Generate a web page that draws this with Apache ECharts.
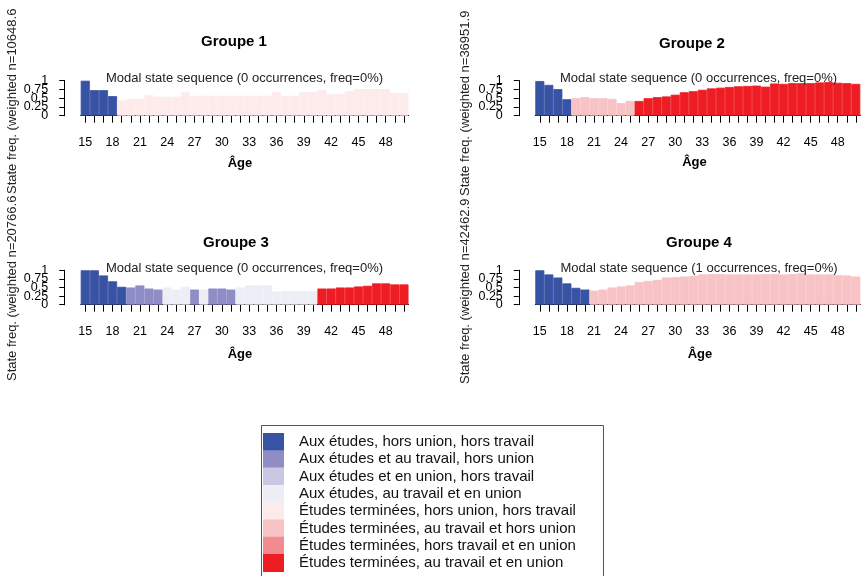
<!DOCTYPE html>
<html>
<head>
<meta charset="utf-8">
<script src="https://cdn.jsdelivr.net/npm/echarts@6/dist/echarts.min.js"></script>
<style>
html,body{margin:0;padding:0;background:#fff;}
#chart{width:861px;height:576px;}
</style>
</head>
<body>
<div id="chart"></div>
<script>
const ages = ['15','16','17','18','19','20','21','22','23','24','25','26','27','28','29','30','31','32','33','34','35','36','37','38','39','40','41','42','43','44','45','46','47','48','49','50'];

const stateNames = [
  'Aux études, hors union, hors travail',
  'Aux études et au travail, hors union',
  'Aux études et en union, hors travail',
  'Aux études, au travail et en union',
  'Études terminées, hors union, hors travail',
  'Études terminées, au travail et hors union',
  'Études terminées, hors travail et en union',
  'Études terminées, au travail et en union'
];
const stateColors = ['#3953A4','#8E8DC6','#C9C7E2','#EDEDF6','#FDEBEC','#F8C3C5','#F28B8F','#EE1D23'];

const groupTitles = ['Groupe 1','Groupe 2','Groupe 3','Groupe 4'];
const groupSubtitles = [
  'Modal state sequence (0 occurrences, freq=0%)',
  'Modal state sequence (0 occurrences, freq=0%)',
  'Modal state sequence (0 occurrences, freq=0%)',
  'Modal state sequence (1 occurrences, freq=0%)'
];
const groupYTitles = [
  'State freq. (weighted n=10648.6',
  'State freq. (weighted n=36951.9',
  'State freq. (weighted n=20766.6',
  'State freq. (weighted n=42462.9'
];
// y tick labels, split in two sets so the library keeps all of them
const yTicksMain = [0, 0.5, 1];
const yTicksQuarter = [0.25, 0.75];

// modal state (index into stateNames) at each age
const group1State = [0,0,0,0,4,4,4,4,4,4,4,4,4,4,4,4,4,4,4,4,4,4,4,4,4,4,4,4,4,4,4,4,4,4,4,4];
const group2State = [0,0,0,0,5,5,5,5,5,5,5,7,7,7,7,7,7,7,7,7,7,7,7,7,7,7,7,7,7,7,7,7,7,7,7,7];
const group3State = [0,0,0,0,0,1,1,1,1,3,3,3,1,3,1,1,1,3,3,3,3,3,3,3,3,3,7,7,7,7,7,7,7,7,7,7];
const group4State = [0,0,0,0,0,0,5,5,5,5,5,5,5,5,5,5,5,5,5,5,5,5,5,5,5,5,5,5,5,5,5,5,5,5,5,5];

// frequency of the modal state at each age
const group1Freq = [1.00,0.73,0.73,0.56,0.44,0.48,0.48,0.59,0.54,0.54,0.54,0.68,0.57,0.57,0.57,0.57,0.57,0.57,0.57,0.57,0.57,0.68,0.57,0.57,0.67,0.67,0.73,0.62,0.62,0.70,0.76,0.76,0.76,0.76,0.65,0.65];
const group2Freq = [0.99,0.88,0.76,0.47,0.50,0.53,0.50,0.50,0.48,0.36,0.42,0.42,0.50,0.53,0.55,0.60,0.67,0.70,0.74,0.78,0.80,0.82,0.84,0.85,0.86,0.83,0.92,0.91,0.93,0.93,0.93,0.95,0.96,0.94,0.93,0.91];
const group3Freq = [1.00,1.00,0.85,0.68,0.52,0.50,0.56,0.47,0.44,0.50,0.44,0.52,0.44,0.44,0.47,0.47,0.44,0.50,0.56,0.56,0.56,0.38,0.40,0.40,0.40,0.40,0.47,0.47,0.50,0.50,0.53,0.55,0.62,0.62,0.59,0.59];
const group4Freq = [1.00,0.88,0.79,0.62,0.49,0.44,0.41,0.44,0.50,0.53,0.56,0.66,0.69,0.72,0.79,0.80,0.82,0.84,0.88,0.89,0.89,0.88,0.88,0.88,0.88,0.89,0.89,0.88,0.89,0.91,0.88,0.88,0.88,0.86,0.85,0.82];

const groupStates = [group1State, group2State, group3State, group4State];
const groupFreqs = [group1Freq, group2Freq, group3Freq, group4Freq];

const FONT = 'Liberation Sans, Arial, sans-serif';

// layout of the four panels (pixels)
const panels = [
  {left: 80.7, top: 80.7, width: 327.8, height: 35, titleX: 234, titleY: 42, subX: 244.5, subY: 78.5, ageX: 240, ageY: 163, ytX: 12.5, ytY: 194},
  {left: 535.3, top: 80.7, width: 325, height: 35, titleX: 692, titleY: 44, subX: 698.5, subY: 78.5, ageX: 694.5, ageY: 162.5, ytX: 465, ytY: 196},
  {left: 80.7, top: 270.3, width: 327.8, height: 34.4, titleX: 236, titleY: 242.5, subX: 244.5, subY: 268.5, ageX: 240, ageY: 354, ytX: 12.5, ytY: 381},
  {left: 535.3, top: 270.3, width: 325, height: 34.4, titleX: 699, titleY: 242.5, subX: 699, subY: 268.5, ageX: 700, ageY: 354, ytX: 465, ytY: 384}
];

const grids = [], xAxes = [], yAxes = [], series = [], graphics = [];

function makeYAxis(g, values) {
  return {
    type: 'value', gridIndex: g, min: 0, max: 1, position: 'left', offset: 16.5,
    axisLine: {show: true, onZero: false, lineStyle: {color: '#000', width: 1}},
    axisTick: {show: true, length: 5, customValues: values, lineStyle: {color: '#000'}},
    axisLabel: {margin: 16, color: '#000', fontFamily: FONT, fontSize: 12.5, showMinLabel: true, showMaxLabel: true,
      hideOverlap: false, customValues: values, formatter: v => String(v)},
    splitLine: {show: false}
  };
}

panels.forEach((p, g) => {
  grids.push({left: p.left, top: p.top, width: p.width, height: p.height, containLabel: false});
  xAxes.push({
    type: 'category', gridIndex: g, data: ages, offset: 1,
    axisLine: {show: true, lineStyle: {color: '#000', width: 1}},
    axisTick: {show: true, interval: 0, alignWithLabel: true, length: 7, lineStyle: {color: '#000'}},
    axisLabel: {interval: 2, margin: 19, color: '#000', fontFamily: FONT, fontSize: 12.5, hideOverlap: false},
    splitLine: {show: false}
  });
  const mainIdx = yAxes.length;
  yAxes.push(makeYAxis(g, yTicksMain));
  yAxes.push(makeYAxis(g, yTicksQuarter));
  stateNames.forEach((name, s) => {
    series.push({
      type: 'bar', name: name, xAxisIndex: g, yAxisIndex: mainIdx, stack: 'grp' + g,
      barCategoryGap: '0%', barWidth: '100%',
      itemStyle: {color: stateColors[s], borderColor: stateColors[s], borderWidth: 0.8},
      emphasis: {disabled: true},
      data: groupFreqs[g].map((f, i) => groupStates[g][i] === s ? f : '-')
    });
  });
  graphics.push({type: 'text', x: p.titleX, y: p.titleY, z: 100,
    style: {text: groupTitles[g], font: 'bold 15px ' + FONT, fill: '#000', textAlign: 'center', textVerticalAlign: 'middle'}});
  graphics.push({type: 'text', x: p.subX, y: p.subY, z: 100,
    style: {text: groupSubtitles[g], font: '13px ' + FONT, fill: '#222', textAlign: 'center', textVerticalAlign: 'middle'}});
  graphics.push({type: 'text', x: p.ageX, y: p.ageY, z: 100,
    style: {text: 'Âge', font: 'bold 13px ' + FONT, fill: '#000', textAlign: 'center', textVerticalAlign: 'middle'}});
  graphics.push({type: 'text', x: p.ytX, y: p.ytY, rotation: Math.PI / 2, z: 100,
    style: {text: groupYTitles[g], font: '13px ' + FONT, fill: '#222', textAlign: 'left', textVerticalAlign: 'middle'}});
});

// legend frame
graphics.push({type: 'rect', shape: {x: 261.5, y: 425.5, width: 342, height: 160},
  style: {fill: 'none', stroke: '#555', lineWidth: 1}});

const chart = echarts.init(document.getElementById('chart'), null, {renderer: 'canvas'});
chart.setOption({
  animation: false,
  backgroundColor: '#fff',
  grid: grids,
  xAxis: xAxes,
  yAxis: yAxes,
  series: series,
  legend: {
    orient: 'vertical', left: 263, top: 433, padding: 0, height: 300,
    itemWidth: 19, itemHeight: 16, itemGap: -0.7, icon: 'rect',
    selectedMode: false, data: stateNames,
    textStyle: {fontFamily: FONT, fontSize: 15, color: '#111', lineHeight: 16, padding: [0, 0, 0, 11]}
  },
  tooltip: {show: false},
  graphic: graphics
});
</script>
</body>
</html>
